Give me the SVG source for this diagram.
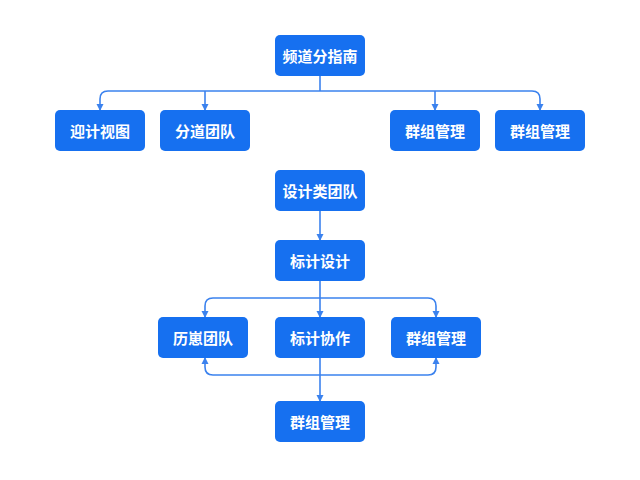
<svg xmlns="http://www.w3.org/2000/svg" width="640" height="480" viewBox="0 0 640 480">
<style>
.n rect{fill:#1670f0;rx:5px}
.n text{fill:#fff;font-family:"Noto Sans CJK SC",sans-serif;font-size:15px;font-weight:bold;text-anchor:middle;dominant-baseline:central}
.c path{fill:none;stroke:#3b82ee;stroke-width:1.6}
</style>
<defs><marker id="a" markerWidth="8" markerHeight="8" refX="6" refY="4" orient="auto" markerUnits="userSpaceOnUse"><path d="M0,0.5 L7,4 L0,7.5z" fill="#3b82ee"/></marker></defs>
<rect width="640" height="480" fill="#fff"/>
<g class="c">
<path d="M320,76 V91"/>
<path d="M320,91 H108 Q100,91 100,99 V110" marker-end="url(#a)"/>
<path d="M205,91 V110" marker-end="url(#a)"/>
<path d="M320,91 H532 Q540,91 540,99 V110" marker-end="url(#a)"/>
<path d="M435,91 V110" marker-end="url(#a)"/>
<path d="M320,211 V240" marker-end="url(#a)"/>
<path d="M320,281 V317" marker-end="url(#a)"/>
<path d="M320,298 H213 Q205,298 205,306 V317" marker-end="url(#a)"/>
<path d="M320,298 H428 Q436,298 436,306 V317" marker-end="url(#a)"/>
<path d="M320,358 V401" marker-end="url(#a)"/>
<path d="M320,375 H213 Q205,375 205,367 V358" marker-end="url(#a)"/>
<path d="M320,375 H428 Q436,375 436,367 V358" marker-end="url(#a)"/>
</g>
<g id="n1" class="n"><rect x="275" y="35" width="90" height="41"/><text x="320" y="55.5">频道分指南</text></g>
<g id="n2" class="n"><rect x="55" y="110" width="90" height="41"/><text x="100" y="130.5">迎计视图</text></g>
<g id="n3" class="n"><rect x="160" y="110" width="90" height="41"/><text x="205" y="130.5">分道团队</text></g>
<g id="n4" class="n"><rect x="390" y="110" width="90" height="41"/><text x="435" y="130.5">群组管理</text></g>
<g id="n5" class="n"><rect x="495" y="110" width="90" height="41"/><text x="540" y="130.5">群组管理</text></g>
<g id="n6" class="n"><rect x="275" y="170" width="90" height="41"/><text x="320" y="190.5">设计类团队</text></g>
<g id="n7" class="n"><rect x="275" y="240" width="90" height="41"/><text x="320" y="260.5">标计设计</text></g>
<g id="n8" class="n"><rect x="158" y="317" width="90" height="41"/><text x="203" y="337.5">历崽团队</text></g>
<g id="n9" class="n"><rect x="275" y="317" width="90" height="41"/><text x="320" y="337.5">标计协作</text></g>
<g id="n10" class="n"><rect x="391" y="317" width="90" height="41"/><text x="436" y="337.5">群组管理</text></g>
<g id="n11" class="n"><rect x="275" y="401" width="90" height="41"/><text x="320" y="421.5">群组管理</text></g>
</svg>
